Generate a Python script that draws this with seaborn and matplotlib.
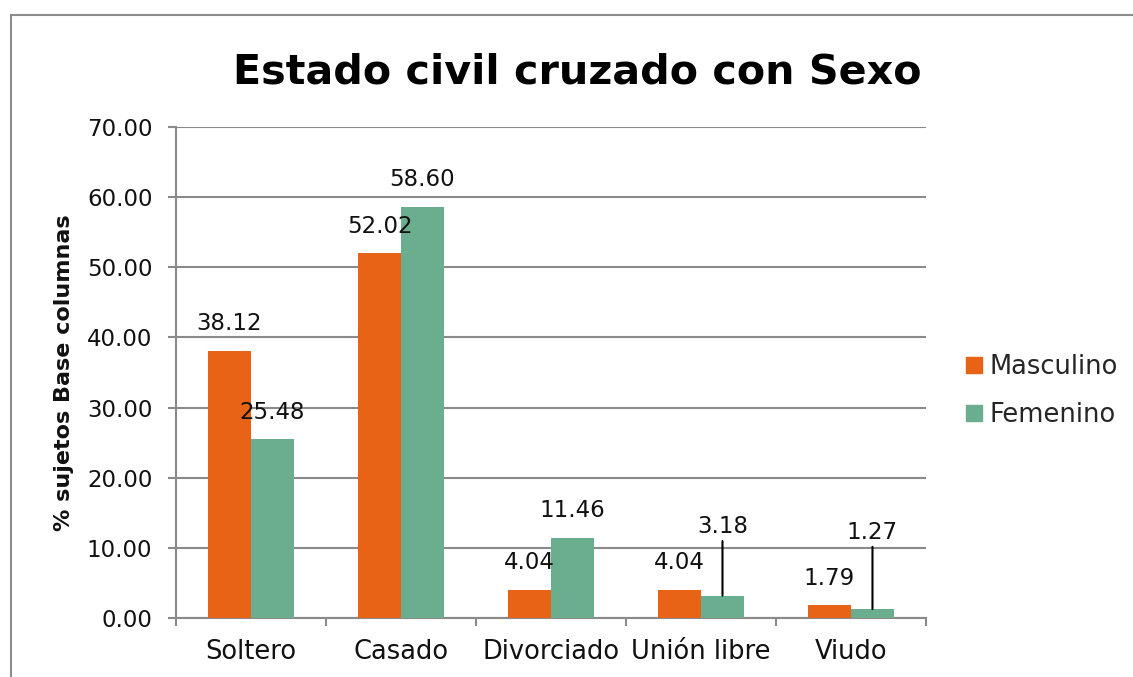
import matplotlib
matplotlib.use("Agg")
import matplotlib.pyplot as plt
import matplotlib.patches as mpatches
import pandas as pd
import seaborn as sns

# data
categories = ["Soltero", "Casado", "Divorciado", "Unión libre", "Viudo"]
masculino = [38.12, 52.02, 4.04, 4.04, 1.79]
femenino = [25.48, 58.60, 11.46, 3.18, 1.27]
series_names = ["Masculino", "Femenino"]
y_ticks = [0, 10, 20, 30, 40, 50, 60, 70]

# label placement (points above the bar top); larger ones get a leader line
label_offsets = {
    "Masculino": [19.5, 19.5, 19.5, 19.5, 19.5],
    "Femenino": [19.5, 19.5, 19.5, 50.0, 55.5],
}
leader = {
    "Masculino": [False, False, False, False, False],
    "Femenino": [False, False, False, True, True],
}

colors = ["#E86315", "#6AAD8F"]
grid_gray = "#8A8A8A"

df = pd.DataFrame(
    {
        "estado": categories * 2,
        "sexo": [series_names[0]] * len(categories) + [series_names[1]] * len(categories),
        "pct": masculino + femenino,
    }
)

sns.set_theme(style="white")
plt.rcParams["font.family"] = ["DejaVu Sans"]

fig = plt.figure(figsize=(11.33, 6.77), dpi=100)
ax = fig.add_axes([176 / 1133, 59 / 677, 750 / 1133, 491 / 677])

sns.barplot(
    data=df,
    x="estado",
    y="pct",
    hue="sexo",
    order=categories,
    hue_order=series_names,
    palette=colors,
    width=0.573,
    linewidth=0,
    saturation=1,
    legend=False,
    ax=ax,
    zorder=3,
)

ax.set_xlim(-0.5, len(categories) - 0.5)
ax.set_ylim(0, 70)
ax.set_yticks(y_ticks)
ax.set_yticklabels([f"{v:.2f}" for v in y_ticks], fontsize=16.5, color="#111111")
ax.yaxis.grid(True, color=grid_gray, linewidth=1.5, zorder=0)
ax.xaxis.grid(False)
ax.set_axisbelow(True)

for side in ["top", "right"]:
    ax.spines[side].set_visible(False)
for side in ["left", "bottom"]:
    ax.spines[side].set_color(grid_gray)
    ax.spines[side].set_linewidth(1.5)

ax.tick_params(axis="y", direction="out", length=6, width=1.5, color=grid_gray, pad=11, left=True)
ax.set_xticks(range(len(categories)))
ax.set_xticklabels(categories, fontsize=18.5, color="#111111")
ax.tick_params(axis="x", which="major", length=0, pad=15)
ax.set_xticks([i - 0.5 for i in range(len(categories) + 1)], minor=True)
ax.tick_params(axis="x", which="minor", direction="out", length=6, width=1.5,
               color=grid_gray, bottom=True)

ax.set_xlabel("")
ax.set_ylabel("% sujetos Base columnas", fontsize=16, fontweight="bold", color="#111111")
ax.yaxis.set_label_coords(-0.136, 0.5)

# value labels
for name, container in zip(series_names, ax.containers):
    for i, rect in enumerate(container):
        xc = rect.get_x() + rect.get_width() / 2
        h = rect.get_height()
        kw = {}
        if leader[name][i]:
            kw["arrowprops"] = dict(arrowstyle="-", color="black", lw=1.5,
                                    shrinkA=0, shrinkB=0)
        ax.annotate(
            f"{h:.2f}",
            xy=(xc, h),
            xytext=(0, label_offsets[name][i]),
            textcoords="offset points",
            ha="center",
            va="center",
            fontsize=16.5,
            color="#111111",
            zorder=5,
            **kw,
        )

fig.text(577 / 1133, 1 - 83 / 677, "Estado civil cruzado con Sexo",
         ha="center", va="baseline", fontsize=29.7, fontweight="bold", color="black")

handles = [mpatches.Patch(color=c, label=n) for c, n in zip(colors, series_names)]
fig.legend(
    handles=handles,
    loc="center left",
    bbox_to_anchor=(956 / 1133, 1 - 391 / 677),
    frameon=False,
    fontsize=18.5,
    handlelength=0.6,
    handleheight=0.6,
    handletextpad=0.3,
    labelspacing=0.85,
    borderaxespad=0,
)

# outer chart border (left and top edges visible in the reference)
fig.patches.append(
    mpatches.Rectangle((11 / 1133, -0.05), 1.1, 0.05 + 1 - 15 / 677,
                       transform=fig.transFigure, fill=False,
                       edgecolor="#8C8C8C", linewidth=1.5, figure=fig)
)

fig.savefig("out.png", dpi=100)
plt.close(fig)
